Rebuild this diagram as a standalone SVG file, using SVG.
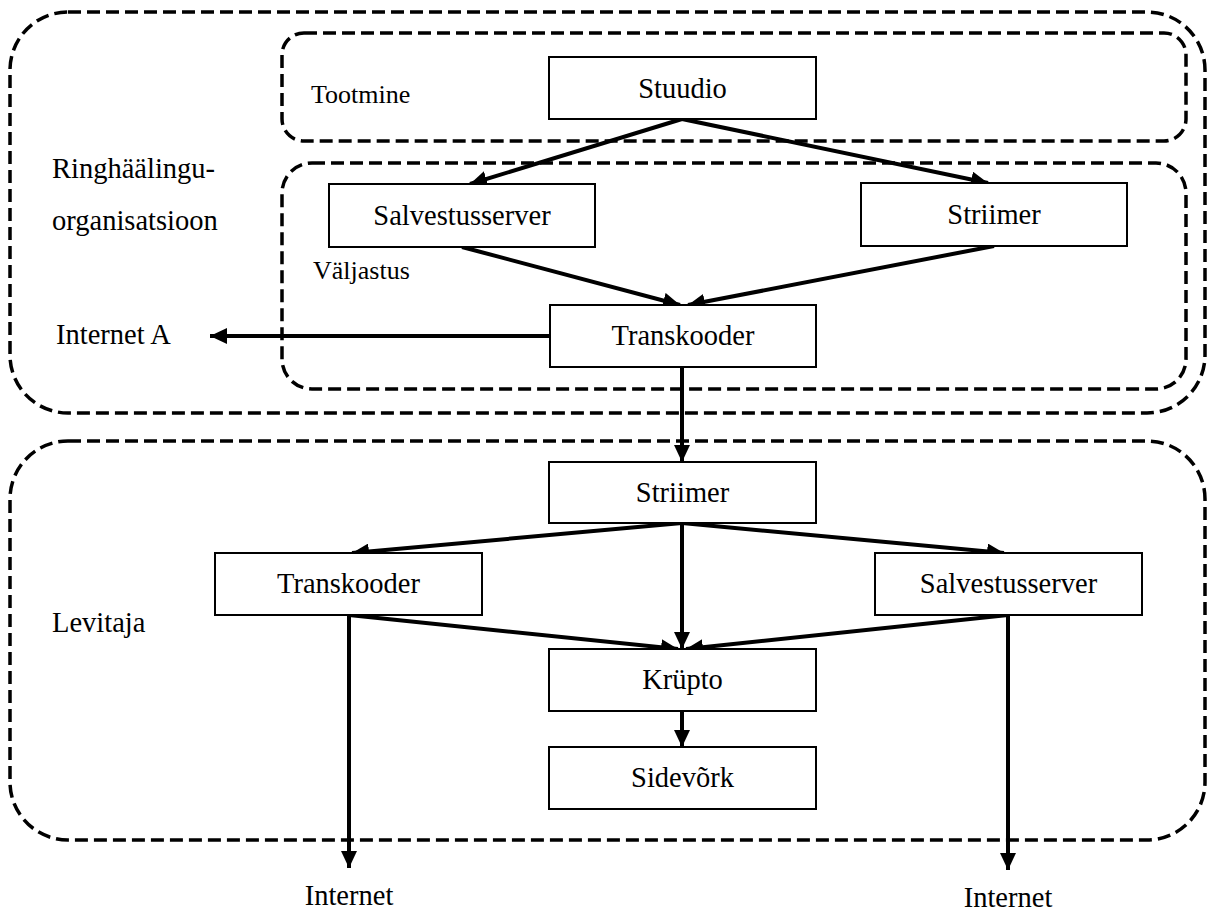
<svg xmlns="http://www.w3.org/2000/svg" width="1215" height="912" viewBox="0 0 1215 912">
<defs>
<style>
.grp{fill:none;stroke:#000;stroke-width:3.5;stroke-dasharray:13 6}
.box{fill:#fff;stroke:#000;stroke-width:2}
.t{font-family:"Liberation Serif","Times New Roman",serif;font-size:28.5px;fill:#000}
.c{text-anchor:middle}
.s{font-size:26px}
.e{fill:none;stroke:#000;stroke-width:4;marker-end:url(#ah)}
</style>
<marker id="ah" markerUnits="userSpaceOnUse" markerWidth="18" markerHeight="16" refX="17" refY="8" orient="auto">
<path d="M0,0 L17,8 L0,16 z" fill="#000"/>
</marker>
</defs>
<rect fill="#fff" x="0" y="0" width="1215" height="912"/>
<g id="containers">
<rect id="ringhaaling" class="grp" x="10" y="12" width="1195" height="401" rx="58" ry="58"/>
<rect id="tootmine" class="grp" x="282" y="33" width="904" height="108" rx="22" ry="22"/>
<rect id="valjastus" class="grp" x="282" y="163" width="904" height="226" rx="30" ry="30"/>
<rect id="levitaja" class="grp" x="10" y="441" width="1195" height="399" rx="58" ry="58"/>
</g>
<g id="labels">
<text class="t" x="52" y="178">Ringhäälingu-</text>
<text class="t" x="52" y="230">organisatsioon</text>
<text class="t s" x="311" y="103">Tootmine</text>
<text class="t s" x="313" y="279">Väljastus</text>
<text class="t" x="56" y="344">Internet A</text>
<text class="t" x="52" y="632">Levitaja</text>
<text class="t c" x="349" y="905">Internet</text>
<text class="t c" x="1008" y="907">Internet</text>
</g>
<g id="connectors">
<path class="e" d="M682,119 L470,184"/>
<path class="e" d="M682,119 L988,183"/>
<path class="e" d="M462,247 L680,305"/>
<path class="e" d="M994,246 L688,305"/>
<path class="e" d="M550,336 L210,336"/>
<path class="e" d="M682,367 L682,462"/>
<path class="e" d="M682,523 L352,553"/>
<path class="e" d="M682,523 L1004,553"/>
<path class="e" d="M682,523 L682,649"/>
<path class="e" d="M349,615 L678,649"/>
<path class="e" d="M1008,615 L686,649"/>
<path class="e" d="M349,615 L349,868"/>
<path class="e" d="M1008,615 L1008,870"/>
<path class="e" d="M682,711 L682,747"/>
</g>
<g id="stuudio"><rect class="box" x="549" y="57" width="267" height="62"/><text class="t c" x="682.5" y="97.5">Stuudio</text></g>
<g id="salvestusserver1"><rect class="box" x="329" y="184" width="266" height="63"/><text class="t c" x="462" y="225">Salvestusserver</text></g>
<g id="striimer1"><rect class="box" x="861" y="183" width="266" height="63"/><text class="t c" x="994" y="224">Striimer</text></g>
<g id="transkooder1"><rect class="box" x="550" y="305" width="266" height="62"/><text class="t c" x="683" y="345">Transkooder</text></g>
<g id="striimer2"><rect class="box" x="549" y="462" width="267" height="61"/><text class="t c" x="682.5" y="502">Striimer</text></g>
<g id="transkooder2"><rect class="box" x="215" y="553" width="267" height="62"/><text class="t c" x="348.5" y="593">Transkooder</text></g>
<g id="salvestusserver2"><rect class="box" x="875" y="553" width="267" height="62"/><text class="t c" x="1008.5" y="593">Salvestusserver</text></g>
<g id="krupto"><rect class="box" x="549" y="649" width="267" height="62"/><text class="t c" x="682.5" y="689">Krüpto</text></g>
<g id="sidevork"><rect class="box" x="549" y="747" width="267" height="62"/><text class="t c" x="682.5" y="787">Sidevõrk</text></g>
</svg>
